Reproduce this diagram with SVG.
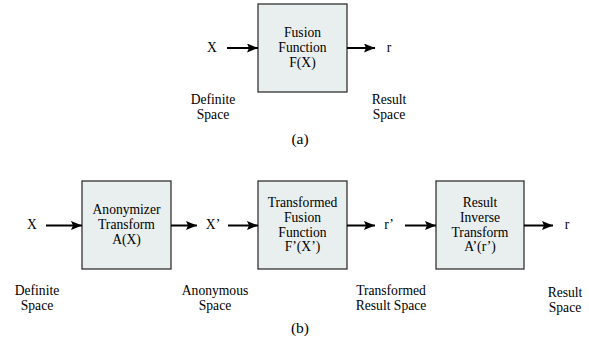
<svg xmlns="http://www.w3.org/2000/svg" width="589" height="341" viewBox="0 0 589 341">
<style>
.box{fill:#e9eeee;stroke:#333;stroke-width:1.3}
text{font-family:"Liberation Serif","Times New Roman",serif;font-size:13.6px;fill:#000;text-anchor:middle}
.cap{font-size:15.5px}
.arr{stroke:#000;stroke-width:2;fill:none;marker-end:url(#ah)}
</style>
<defs>
<marker id="ah" markerWidth="12" markerHeight="10" refX="11" refY="4.5" orient="auto" markerUnits="userSpaceOnUse">
<path d="M0,0 L11,4.5 L0,9 L2,4.5 Z" fill="#000"/>
</marker>
</defs>
<rect width="589" height="341" fill="#fff"/>
<g id="fusion">
<rect class="box" x="258" y="4" width="89" height="88"/>
<text x="302.5" y="37">Fusion</text>
<text x="302.5" y="52">Function</text>
<text x="302.5" y="67">F(X)</text>
</g>
<g id="anonymizer">
<rect class="box" x="82" y="181" width="89" height="88"/>
<text x="126.5" y="214">Anonymizer</text>
<text x="126.5" y="229">Transform</text>
<text x="126.5" y="244">A(X)</text>
</g>
<g id="tfusion">
<rect class="box" x="258" y="181" width="89" height="88"/>
<text x="302.5" y="207">Transformed</text>
<text x="302.5" y="222">Fusion</text>
<text x="302.5" y="237">Function</text>
<text x="302.5" y="251">F’(X’)</text>
</g>
<g id="inverse">
<rect class="box" x="436" y="181" width="88" height="88"/>
<text x="480" y="207">Result</text>
<text x="480" y="222">Inverse</text>
<text x="480" y="237">Transform</text>
<text x="480" y="251">A’(r’)</text>
</g>
<g id="labels">
<text x="212" y="52">X</text>
<text x="389" y="52">r</text>
<text x="213" y="104">Definite</text>
<text x="213" y="119">Space</text>
<text x="389" y="104">Result</text>
<text x="389" y="119">Space</text>
<text class="cap" x="300" y="144">(a)</text>
<text x="32" y="229">X</text>
<text x="213" y="229">X’</text>
<text x="389" y="229">r’</text>
<text x="567" y="229">r</text>
<text x="37" y="295">Definite</text>
<text x="37" y="310">Space</text>
<text x="215" y="295">Anonymous</text>
<text x="215" y="310">Space</text>
<text x="391" y="295">Transformed</text>
<text x="391" y="310">Result Space</text>
<text x="565" y="297">Result</text>
<text x="565" y="312">Space</text>
<text class="cap" x="300" y="333">(b)</text>
</g>
<g id="connectors">
<line class="arr" x1="227" y1="48" x2="258" y2="48"/>
<line class="arr" x1="347" y1="48" x2="375" y2="48"/>
<line class="arr" x1="46" y1="225.5" x2="82" y2="225.5"/>
<line class="arr" x1="171" y1="225.5" x2="197" y2="225.5"/>
<line class="arr" x1="228" y1="225.5" x2="258" y2="225.5"/>
<line class="arr" x1="347" y1="225.5" x2="375" y2="225.5"/>
<line class="arr" x1="405" y1="225.5" x2="436" y2="225.5"/>
<line class="arr" x1="524" y1="225.5" x2="553" y2="225.5"/>
</g>
</svg>
